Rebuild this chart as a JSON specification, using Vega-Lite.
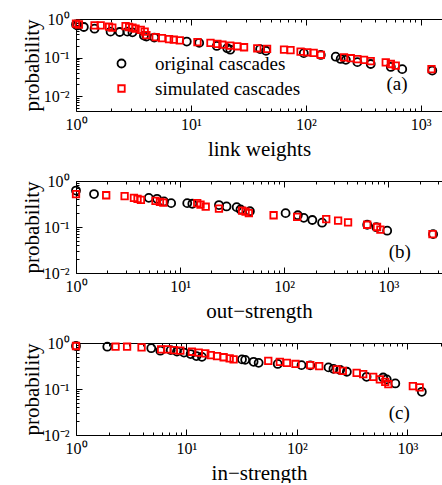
{
  "$schema": "https://vega.github.io/schema/vega-lite/v6.json",
  "padding": {"left": 21, "top": 11, "right": 0, "bottom": 0},
  "background": "white",
  "config": {
    "font": "Liberation Serif",
    "view": {"stroke": null},
    "axis": {"domainColor": "#000000", "domainWidth": 1, "tickColor": "#000000", "tickWidth": 1, "labelColor": "#000000", "titleColor": "#000000", "labelFont": "Liberation Serif", "titleFont": "Liberation Serif", "labelFontSize": 16, "titleFontSize": 21, "titleFontWeight": "normal", "grid": false, "labelFlush": false, "labelOverlap": false}
  },
  "bounds": "flush",
  "spacing": 70,
  "resolve": {"legend": {"color": "independent", "shape": "independent", "size": "independent"}},
  "vconcat": [
    {
      "width": 366, "height": 92,
      "layer": [
        {
          "data": {"values": [
            {"x": 1.0, "p": 0.72, "series": "original cascades"},
            {"x": 1.03, "p": 0.68, "series": "original cascades"},
            {"x": 1.17, "p": 0.62, "series": "original cascades"},
            {"x": 1.45, "p": 0.56, "series": "original cascades"},
            {"x": 2.0, "p": 0.47, "series": "original cascades"},
            {"x": 2.4, "p": 0.46, "series": "original cascades"},
            {"x": 2.8, "p": 0.47, "series": "original cascades"},
            {"x": 3.1, "p": 0.45, "series": "original cascades"},
            {"x": 3.9, "p": 0.37, "series": "original cascades"},
            {"x": 4.1, "p": 0.35, "series": "original cascades"},
            {"x": 4.8, "p": 0.33, "series": "original cascades"},
            {"x": 9.2, "p": 0.26, "series": "original cascades"},
            {"x": 11.8, "p": 0.24, "series": "original cascades"},
            {"x": 16.8, "p": 0.2, "series": "original cascades"},
            {"x": 20.7, "p": 0.175, "series": "original cascades"},
            {"x": 22, "p": 0.16, "series": "original cascades"},
            {"x": 40, "p": 0.165, "series": "original cascades"},
            {"x": 45, "p": 0.15, "series": "original cascades"},
            {"x": 96, "p": 0.13, "series": "original cascades"},
            {"x": 135, "p": 0.117, "series": "original cascades"},
            {"x": 182, "p": 0.105, "series": "original cascades"},
            {"x": 201, "p": 0.092, "series": "original cascades"},
            {"x": 223, "p": 0.087, "series": "original cascades"},
            {"x": 281, "p": 0.076, "series": "original cascades"},
            {"x": 367, "p": 0.068, "series": "original cascades"},
            {"x": 549, "p": 0.057, "series": "original cascades"},
            {"x": 690, "p": 0.05, "series": "original cascades"},
            {"x": 1260, "p": 0.046, "series": "original cascades"},
            {"x": 1.0, "p": 0.76, "series": "simulated cascades"},
            {"x": 1.06, "p": 0.72, "series": "simulated cascades"},
            {"x": 1.45, "p": 0.68, "series": "simulated cascades"},
            {"x": 1.64, "p": 0.68, "series": "simulated cascades"},
            {"x": 1.94, "p": 0.63, "series": "simulated cascades"},
            {"x": 2.07, "p": 0.6, "series": "simulated cascades"},
            {"x": 2.7, "p": 0.65, "series": "simulated cascades"},
            {"x": 2.9, "p": 0.62, "series": "simulated cascades"},
            {"x": 3.1, "p": 0.6, "series": "simulated cascades"},
            {"x": 3.3, "p": 0.56, "series": "simulated cascades"},
            {"x": 3.66, "p": 0.52, "series": "simulated cascades"},
            {"x": 3.96, "p": 0.47, "series": "simulated cascades"},
            {"x": 4.1, "p": 0.38, "series": "simulated cascades"},
            {"x": 4.94, "p": 0.34, "series": "simulated cascades"},
            {"x": 5.6, "p": 0.32, "series": "simulated cascades"},
            {"x": 6.45, "p": 0.3, "series": "simulated cascades"},
            {"x": 7.1, "p": 0.29, "series": "simulated cascades"},
            {"x": 8.0, "p": 0.28, "series": "simulated cascades"},
            {"x": 11.4, "p": 0.25, "series": "simulated cascades"},
            {"x": 14.8, "p": 0.24, "series": "simulated cascades"},
            {"x": 17, "p": 0.226, "series": "simulated cascades"},
            {"x": 18.8, "p": 0.215, "series": "simulated cascades"},
            {"x": 22, "p": 0.205, "series": "simulated cascades"},
            {"x": 25.3, "p": 0.196, "series": "simulated cascades"},
            {"x": 29, "p": 0.185, "series": "simulated cascades"},
            {"x": 37.8, "p": 0.174, "series": "simulated cascades"},
            {"x": 46, "p": 0.167, "series": "simulated cascades"},
            {"x": 64.6, "p": 0.16, "series": "simulated cascades"},
            {"x": 73.6, "p": 0.155, "series": "simulated cascades"},
            {"x": 90, "p": 0.143, "series": "simulated cascades"},
            {"x": 103, "p": 0.137, "series": "simulated cascades"},
            {"x": 117, "p": 0.132, "series": "simulated cascades"},
            {"x": 135, "p": 0.118, "series": "simulated cascades"},
            {"x": 215, "p": 0.101, "series": "simulated cascades"},
            {"x": 246, "p": 0.096, "series": "simulated cascades"},
            {"x": 281, "p": 0.091, "series": "simulated cascades"},
            {"x": 321, "p": 0.087, "series": "simulated cascades"},
            {"x": 367, "p": 0.081, "series": "simulated cascades"},
            {"x": 496, "p": 0.075, "series": "simulated cascades"},
            {"x": 549, "p": 0.068, "series": "simulated cascades"},
            {"x": 606, "p": 0.062, "series": "simulated cascades"},
            {"x": 1240, "p": 0.05, "series": "simulated cascades"}
          ]},
          "mark": {"type": "point", "filled": false, "strokeWidth": 1.8, "opacity": 1},
          "encoding": {
            "x": {"field": "x", "type": "quantitative", "scale": {"type": "log", "domain": [1, 1531], "nice": false},
              "axis": {"orient": "bottom", "values": [1,2,3,4,5,6,7,8,9,10,20,30,40,50,60,70,80,90,100,200,300,400,500,600,700,800,900,1000],
                "labelExpr": "datum.value == 1 ? '10⁰' : datum.value == 10 ? '10¹' : datum.value == 100 ? '10²' : datum.value == 1000 ? '10³' : ''",
                "tickSize": {"condition": {"test": "datum.value == 1 || datum.value == 10 || datum.value == 100 || datum.value == 1000", "value": -6}, "value": -3},
                "title": "link weights", "labelPadding": 11, "titlePadding": 3}},
            "y": {"field": "p", "type": "quantitative", "scale": {"type": "log", "domain": [0.0041, 1], "nice": false},
              "axis": {"values": [0.005,0.006,0.007,0.008,0.009,0.01,0.02,0.03,0.04,0.05,0.06,0.07,0.08,0.09,0.1,0.2,0.3,0.4,0.5,0.6,0.7,0.8,0.9,1],
                "labelExpr": "datum.value == 1 ? '10⁰' : datum.value == 0.1 ? '10⁻¹' : datum.value == 0.01 ? '10⁻²' : ''",
                "tickSize": {"condition": {"test": "datum.value == 1 || datum.value == 0.1 || datum.value == 0.01", "value": -6}, "value": -3},
                "title": "probability", "labelPadding": 13, "titlePadding": 1}},
            "color": {"field": "series", "type": "nominal", "scale": {"domain": ["original cascades", "simulated cascades"], "range": ["#000000", "#ff0000"]},
              "legend": {"orient": "none", "legendX": 36, "legendY": 35, "title": null, "labelFontSize": 19, "labelFont": "Liberation Serif", "labelColor": "#000000", "labelOffset": 24, "rowPadding": 5, "symbolStrokeWidth": 1.8, "padding": 0}},
            "shape": {"field": "series", "type": "nominal", "scale": {"domain": ["original cascades", "simulated cascades"], "range": ["circle", "square"]},
              "legend": {"orient": "none", "legendX": 36, "legendY": 35, "title": null, "labelFontSize": 19, "labelFont": "Liberation Serif", "labelColor": "#000000", "labelOffset": 24, "rowPadding": 5, "symbolStrokeWidth": 1.8, "padding": 0}},
            "size": {"field": "series", "type": "nominal", "scale": {"domain": ["original cascades", "simulated cascades"], "range": [64, 42]},
              "legend": {"orient": "none", "legendX": 36, "legendY": 35, "title": null, "labelFontSize": 19, "labelFont": "Liberation Serif", "labelColor": "#000000", "labelOffset": 24, "rowPadding": 5, "symbolStrokeWidth": 1.8, "padding": 0}}
          }
        },
        {
          "data": {"values": [{"label": "(a)"}]},
          "mark": {"type": "text", "fontSize": 19, "font": "Liberation Serif", "color": "#000000"},
          "encoding": {
            "x": {"datum": 622, "type": "quantitative",
              "axis": {"orient": "top", "values": [1,2,3,4,5,6,7,8,9,10,20,30,40,50,60,70,80,90,100,200,300,400,500,600,700,800,900,1000], "labels": false, "title": null,
                "tickSize": {"condition": {"test": "datum.value == 1 || datum.value == 10 || datum.value == 100 || datum.value == 1000", "value": -6}, "value": -3}}},
            "y": {"datum": 0.021, "type": "quantitative"},
            "text": {"field": "label", "type": "nominal"}
          }
        }
      ],
      "resolve": {"axis": {"x": "independent"}}
    },
    {
      "width": 366, "height": 92,
      "layer": [
        {
          "data": {"values": [
            {"x": 1, "p": 0.62, "series": "original cascades"},
            {"x": 1.49, "p": 0.52, "series": "original cascades"},
            {"x": 5.0, "p": 0.43, "series": "original cascades"},
            {"x": 6.0, "p": 0.41, "series": "original cascades"},
            {"x": 7.0, "p": 0.36, "series": "original cascades"},
            {"x": 8.2, "p": 0.33, "series": "original cascades"},
            {"x": 11.7, "p": 0.33, "series": "original cascades"},
            {"x": 13.1, "p": 0.32, "series": "original cascades"},
            {"x": 23.6, "p": 0.3, "series": "original cascades"},
            {"x": 27.9, "p": 0.28, "series": "original cascades"},
            {"x": 34.9, "p": 0.27, "series": "original cascades"},
            {"x": 38, "p": 0.24, "series": "original cascades"},
            {"x": 46.8, "p": 0.22, "series": "original cascades"},
            {"x": 103, "p": 0.2, "series": "original cascades"},
            {"x": 135, "p": 0.18, "series": "original cascades"},
            {"x": 154, "p": 0.158, "series": "original cascades"},
            {"x": 186, "p": 0.142, "series": "original cascades"},
            {"x": 231, "p": 0.124, "series": "original cascades"},
            {"x": 626, "p": 0.112, "series": "original cascades"},
            {"x": 767, "p": 0.099, "series": "original cascades"},
            {"x": 974, "p": 0.083, "series": "original cascades"},
            {"x": 2690, "p": 0.07, "series": "original cascades"},
            {"x": 1, "p": 0.52, "series": "simulated cascades"},
            {"x": 1.95, "p": 0.49, "series": "simulated cascades"},
            {"x": 2.93, "p": 0.47, "series": "simulated cascades"},
            {"x": 3.6, "p": 0.43, "series": "simulated cascades"},
            {"x": 3.9, "p": 0.41, "series": "simulated cascades"},
            {"x": 4.2, "p": 0.39, "series": "simulated cascades"},
            {"x": 5.8, "p": 0.37, "series": "simulated cascades"},
            {"x": 6.4, "p": 0.35, "series": "simulated cascades"},
            {"x": 6.9, "p": 0.34, "series": "simulated cascades"},
            {"x": 14.6, "p": 0.33, "series": "simulated cascades"},
            {"x": 15.7, "p": 0.305, "series": "simulated cascades"},
            {"x": 17.6, "p": 0.276, "series": "simulated cascades"},
            {"x": 23.6, "p": 0.25, "series": "simulated cascades"},
            {"x": 39.4, "p": 0.226, "series": "simulated cascades"},
            {"x": 42.5, "p": 0.215, "series": "simulated cascades"},
            {"x": 45.7, "p": 0.2, "series": "simulated cascades"},
            {"x": 79, "p": 0.18, "series": "simulated cascades"},
            {"x": 133, "p": 0.166, "series": "simulated cascades"},
            {"x": 253, "p": 0.148, "series": "simulated cascades"},
            {"x": 329, "p": 0.138, "series": "simulated cascades"},
            {"x": 410, "p": 0.126, "series": "simulated cascades"},
            {"x": 626, "p": 0.112, "series": "simulated cascades"},
            {"x": 778, "p": 0.1, "series": "simulated cascades"},
            {"x": 838, "p": 0.088, "series": "simulated cascades"},
            {"x": 2650, "p": 0.07, "series": "simulated cascades"}
          ]},
          "mark": {"type": "point", "filled": false, "strokeWidth": 1.8, "opacity": 1},
          "encoding": {
            "x": {"field": "x", "type": "quantitative", "scale": {"type": "log", "domain": [1, 3273], "nice": false},
              "axis": {"orient": "bottom", "values": [1,2,3,4,5,6,7,8,9,10,20,30,40,50,60,70,80,90,100,200,300,400,500,600,700,800,900,1000,2000,3000],
                "labelExpr": "datum.value == 1 ? '10⁰' : datum.value == 10 ? '10¹' : datum.value == 100 ? '10²' : datum.value == 1000 ? '10³' : ''",
                "tickSize": {"condition": {"test": "datum.value == 1 || datum.value == 10 || datum.value == 100 || datum.value == 1000", "value": -6}, "value": -3},
                "title": "out−strength", "labelPadding": 11, "titlePadding": 3}},
            "y": {"field": "p", "type": "quantitative", "scale": {"type": "log", "domain": [0.01, 1], "nice": false},
              "axis": {"values": [0.01,0.02,0.03,0.04,0.05,0.06,0.07,0.08,0.09,0.1,0.2,0.3,0.4,0.5,0.6,0.7,0.8,0.9,1],
                "labelExpr": "datum.value == 1 ? '10⁰' : datum.value == 0.1 ? '10⁻¹' : datum.value == 0.01 ? '10⁻²' : ''",
                "tickSize": {"condition": {"test": "datum.value == 1 || datum.value == 0.1 || datum.value == 0.01", "value": -6}, "value": -3},
                "title": "probability", "labelPadding": 13, "titlePadding": 1}},
            "color": {"field": "series", "type": "nominal", "scale": {"domain": ["original cascades", "simulated cascades"], "range": ["#000000", "#ff0000"]}, "legend": null},
            "shape": {"field": "series", "type": "nominal", "scale": {"domain": ["original cascades", "simulated cascades"], "range": ["circle", "square"]}, "legend": null},
            "size": {"field": "series", "type": "nominal", "scale": {"domain": ["original cascades", "simulated cascades"], "range": [64, 42]}, "legend": null}
          }
        },
        {
          "data": {"values": [{"label": "(b)"}]},
          "mark": {"type": "text", "fontSize": 19, "font": "Liberation Serif", "color": "#000000"},
          "encoding": {
            "x": {"datum": 1288, "type": "quantitative",
              "axis": {"orient": "top", "values": [1,2,3,4,5,6,7,8,9,10,20,30,40,50,60,70,80,90,100,200,300,400,500,600,700,800,900,1000,2000,3000], "labels": false, "title": null,
                "tickSize": {"condition": {"test": "datum.value == 1 || datum.value == 10 || datum.value == 100 || datum.value == 1000", "value": -6}, "value": -3}}},
            "y": {"datum": 0.0286, "type": "quantitative"},
            "text": {"field": "label", "type": "nominal"}
          }
        }
      ],
      "resolve": {"axis": {"x": "independent"}}
    },
    {
      "width": 366, "height": 92,
      "layer": [
        {
          "data": {"values": [
            {"x": 1, "p": 0.86, "series": "original cascades"},
            {"x": 1.92, "p": 0.83, "series": "original cascades"},
            {"x": 4.8, "p": 0.77, "series": "original cascades"},
            {"x": 5.8, "p": 0.68, "series": "original cascades"},
            {"x": 7.2, "p": 0.7, "series": "original cascades"},
            {"x": 8.2, "p": 0.65, "series": "original cascades"},
            {"x": 9.5, "p": 0.62, "series": "original cascades"},
            {"x": 10.9, "p": 0.575, "series": "original cascades"},
            {"x": 12.3, "p": 0.52, "series": "original cascades"},
            {"x": 13.8, "p": 0.5, "series": "original cascades"},
            {"x": 31.8, "p": 0.44, "series": "original cascades"},
            {"x": 34, "p": 0.43, "series": "original cascades"},
            {"x": 40.5, "p": 0.39, "series": "original cascades"},
            {"x": 45, "p": 0.37, "series": "original cascades"},
            {"x": 67, "p": 0.35, "series": "original cascades"},
            {"x": 110, "p": 0.33, "series": "original cascades"},
            {"x": 132, "p": 0.326, "series": "original cascades"},
            {"x": 193, "p": 0.295, "series": "original cascades"},
            {"x": 214, "p": 0.275, "series": "original cascades"},
            {"x": 246, "p": 0.26, "series": "original cascades"},
            {"x": 283, "p": 0.237, "series": "original cascades"},
            {"x": 427, "p": 0.184, "series": "original cascades"},
            {"x": 603, "p": 0.178, "series": "original cascades"},
            {"x": 650, "p": 0.162, "series": "original cascades"},
            {"x": 777, "p": 0.132, "series": "original cascades"},
            {"x": 1350, "p": 0.087, "series": "original cascades"},
            {"x": 1, "p": 0.86, "series": "simulated cascades"},
            {"x": 2.28, "p": 0.83, "series": "simulated cascades"},
            {"x": 2.9, "p": 0.83, "series": "simulated cascades"},
            {"x": 3.92, "p": 0.805, "series": "simulated cascades"},
            {"x": 5.9, "p": 0.73, "series": "simulated cascades"},
            {"x": 6.7, "p": 0.73, "series": "simulated cascades"},
            {"x": 7.7, "p": 0.7, "series": "simulated cascades"},
            {"x": 8.8, "p": 0.68, "series": "simulated cascades"},
            {"x": 11.2, "p": 0.645, "series": "simulated cascades"},
            {"x": 12.9, "p": 0.615, "series": "simulated cascades"},
            {"x": 14.8, "p": 0.595, "series": "simulated cascades"},
            {"x": 16.6, "p": 0.547, "series": "simulated cascades"},
            {"x": 18.9, "p": 0.52, "series": "simulated cascades"},
            {"x": 21.7, "p": 0.49, "series": "simulated cascades"},
            {"x": 24.6, "p": 0.463, "series": "simulated cascades"},
            {"x": 26.7, "p": 0.44, "series": "simulated cascades"},
            {"x": 55, "p": 0.41, "series": "simulated cascades"},
            {"x": 70, "p": 0.39, "series": "simulated cascades"},
            {"x": 81, "p": 0.37, "series": "simulated cascades"},
            {"x": 97, "p": 0.35, "series": "simulated cascades"},
            {"x": 132, "p": 0.33, "series": "simulated cascades"},
            {"x": 159, "p": 0.315, "series": "simulated cascades"},
            {"x": 229, "p": 0.266, "series": "simulated cascades"},
            {"x": 260, "p": 0.248, "series": "simulated cascades"},
            {"x": 347, "p": 0.224, "series": "simulated cascades"},
            {"x": 398, "p": 0.21, "series": "simulated cascades"},
            {"x": 490, "p": 0.184, "series": "simulated cascades"},
            {"x": 563, "p": 0.162, "series": "simulated cascades"},
            {"x": 630, "p": 0.143, "series": "simulated cascades"},
            {"x": 672, "p": 0.127, "series": "simulated cascades"},
            {"x": 1120, "p": 0.115, "series": "simulated cascades"},
            {"x": 1290, "p": 0.108, "series": "simulated cascades"}
          ]},
          "mark": {"type": "point", "filled": false, "strokeWidth": 1.8, "opacity": 1},
          "encoding": {
            "x": {"field": "x", "type": "quantitative", "scale": {"type": "log", "domain": [1, 2056], "nice": false},
              "axis": {"orient": "bottom", "values": [1,2,3,4,5,6,7,8,9,10,20,30,40,50,60,70,80,90,100,200,300,400,500,600,700,800,900,1000,2000],
                "labelExpr": "datum.value == 1 ? '10⁰' : datum.value == 10 ? '10¹' : datum.value == 100 ? '10²' : datum.value == 1000 ? '10³' : ''",
                "tickSize": {"condition": {"test": "datum.value == 1 || datum.value == 10 || datum.value == 100 || datum.value == 1000", "value": -6}, "value": -3},
                "title": "in−strength", "labelPadding": 11, "titlePadding": 3}},
            "y": {"field": "p", "type": "quantitative", "scale": {"type": "log", "domain": [0.01, 1], "nice": false},
              "axis": {"values": [0.01,0.02,0.03,0.04,0.05,0.06,0.07,0.08,0.09,0.1,0.2,0.3,0.4,0.5,0.6,0.7,0.8,0.9,1],
                "labelExpr": "datum.value == 1 ? '10⁰' : datum.value == 0.1 ? '10⁻¹' : datum.value == 0.01 ? '10⁻²' : ''",
                "tickSize": {"condition": {"test": "datum.value == 1 || datum.value == 0.1 || datum.value == 0.01", "value": -6}, "value": -3},
                "title": "probability", "labelPadding": 13, "titlePadding": 1}},
            "color": {"field": "series", "type": "nominal", "scale": {"domain": ["original cascades", "simulated cascades"], "range": ["#000000", "#ff0000"]}, "legend": null},
            "shape": {"field": "series", "type": "nominal", "scale": {"domain": ["original cascades", "simulated cascades"], "range": ["circle", "square"]}, "legend": null},
            "size": {"field": "series", "type": "nominal", "scale": {"domain": ["original cascades", "simulated cascades"], "range": [64, 42]}, "legend": null}
          }
        },
        {
          "data": {"values": [{"label": "(c)"}]},
          "mark": {"type": "text", "fontSize": 19, "font": "Liberation Serif", "color": "#000000"},
          "encoding": {
            "x": {"datum": 845, "type": "quantitative",
              "axis": {"orient": "top", "values": [1,2,3,4,5,6,7,8,9,10,20,30,40,50,60,70,80,90,100,200,300,400,500,600,700,800,900,1000,2000], "labels": false, "title": null,
                "tickSize": {"condition": {"test": "datum.value == 1 || datum.value == 10 || datum.value == 100 || datum.value == 1000", "value": -6}, "value": -3}}},
            "y": {"datum": 0.0301, "type": "quantitative"},
            "text": {"field": "label", "type": "nominal"}
          }
        }
      ],
      "resolve": {"axis": {"x": "independent"}}
    }
  ]
}
